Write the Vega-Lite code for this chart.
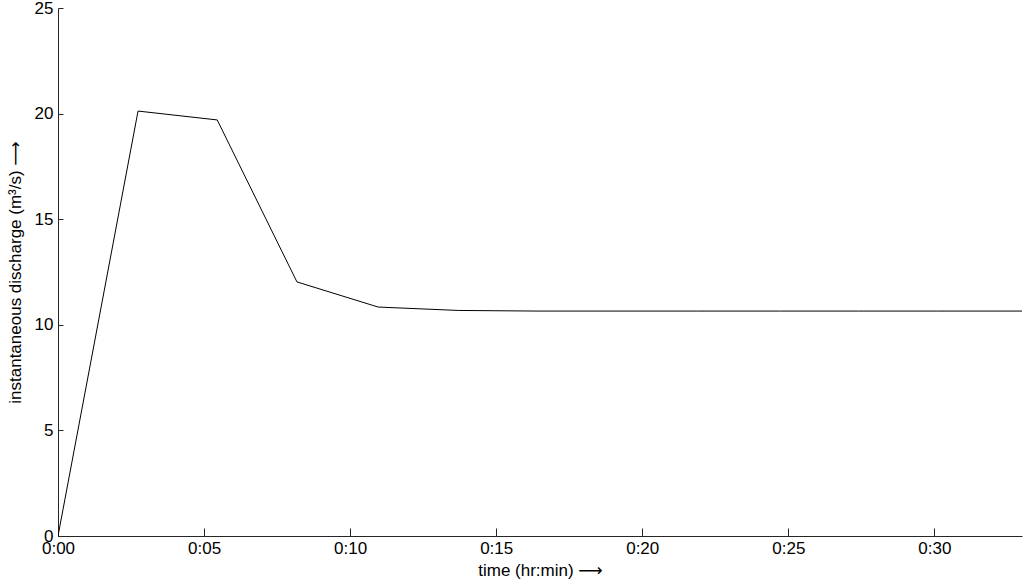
{
  "$schema": "https://vega.github.io/schema/vega-lite/v6.json",
  "width": 964,
  "height": 528,
  "autosize": {"type": "none"},
  "padding": {"left": 58, "top": 8, "right": 2, "bottom": 50},
  "background": "white",
  "config": {
    "view": {"stroke": null},
    "font": "Liberation Sans",
    "axis": {
      "domainColor": "#262626",
      "tickColor": "#262626",
      "labelColor": "#000000",
      "titleColor": "#000000",
      "labelFont": "Liberation Sans",
      "titleFont": "Liberation Sans, DejaVu Sans",
      "labelFontSize": 17,
      "titleFontSize": 17,
      "titleFontWeight": "normal",
      "grid": false,
      "domainWidth": 1,
      "tickWidth": 1
    }
  },
  "data": {
    "values": [
      {"t": 0, "q": 0},
      {"t": 2.74, "q": 20.12},
      {"t": 5.45, "q": 19.7},
      {"t": 8.18, "q": 12.03},
      {"t": 10.96, "q": 10.84},
      {"t": 13.7, "q": 10.68},
      {"t": 16.4, "q": 10.65},
      {"t": 19.2, "q": 10.65},
      {"t": 21.9, "q": 10.65},
      {"t": 24.7, "q": 10.65},
      {"t": 27.4, "q": 10.65},
      {"t": 30.1, "q": 10.65},
      {"t": 33, "q": 10.65}
    ]
  },
  "mark": {"type": "line", "color": "#000000", "strokeWidth": 1, "clip": true},
  "encoding": {
    "x": {
      "field": "t",
      "type": "quantitative",
      "scale": {"domain": [0, 33], "nice": false, "zero": false},
      "axis": {
        "values": [0, 5, 10, 15, 20, 25, 30],
        "labelExpr": "'0:' + (datum.value < 10 ? '0' : '') + datum.value",
        "tickSize": -8,
        "labelPadding": 12,
        "title": "time (hr:min) ⟶",
        "titlePadding": 6,
        "labelFlush": false
      }
    },
    "y": {
      "field": "q",
      "type": "quantitative",
      "scale": {"domain": [0, 25], "nice": false},
      "axis": {
        "values": [0, 5, 10, 15, 20, 25],
        "tickSize": -5,
        "labelPadding": 10,
        "title": "instantaneous discharge (m³/s) ⟶",
        "titlePadding": 10,
        "labelFlush": false
      }
    }
  }
}
